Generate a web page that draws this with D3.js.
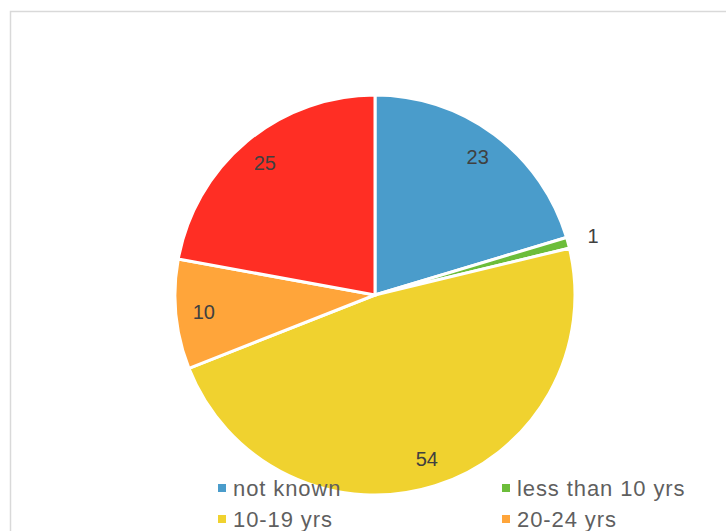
<!DOCTYPE html>
<html>
<head>
<meta charset="utf-8">
<script src="https://cdn.jsdelivr.net/npm/d3@7"></script>
<style>
  body { margin: 0; background: #fff; overflow: hidden; }
  text { font-family: "Liberation Sans", Arial, sans-serif; }
</style>
</head>
<body>
<svg id="chart"></svg>
<script>
const categories = ["not known", "less than 10 yrs", "10-19 yrs", "20-24 yrs", "25+ yrs"];
const values = [23, 1, 54, 10, 25];
const colors = ["#4a9ccb", "#6cbd3a", "#f0d22f", "#ffa53a", "#ff2e24"];

const width = 726;
const height = 531;
const cx = 375, cy = 295, radius = 200;

const svg = d3.select("svg#chart")
  .attr("width", width)
  .attr("height", height);

// chart frame (runs past the window edge)
svg.append("rect")
  .attr("x", 10.5).attr("y", 11.5)
  .attr("width", 800).attr("height", 600)
  .style("fill", "none")
  .style("stroke", "#d9d9d9")
  .style("stroke-width", 1.5);

const data = categories.map((c, i) => ({ name: c, value: values[i], color: colors[i] }));

const pie = d3.pie().value(d => d.value).sort(null);
const arc = d3.arc().innerRadius(0).outerRadius(radius);
const labelArc = d3.arc().innerRadius(radius * 0.86).outerRadius(radius * 0.86);
const outerArc = d3.arc().innerRadius(radius * 1.13).outerRadius(radius * 1.13);

const g = svg.append("g").attr("transform", "translate(" + cx + "," + cy + ")");

const arcs = pie(data);

g.selectAll("path")
  .data(arcs)
  .enter()
  .append("path")
  .attr("d", arc)
  .style("fill", d => d.data.color)
  .style("stroke", "#fff")
  .style("stroke-width", 3);

g.selectAll("text.lbl")
  .data(arcs)
  .enter()
  .append("text")
  .attr("class", "lbl")
  .attr("transform", d => "translate(" + (d.data.value < 3 ? outerArc : labelArc).centroid(d) + ")")
  .attr("text-anchor", "middle")
  .attr("dy", "0.35em")
  .style("font-size", "20px")
  .style("fill", "#404040")
  .text(d => d.data.value);

// legend, two columns
const legend = svg.append("g");
const items = legend.selectAll("g")
  .data(data)
  .enter()
  .append("g")
  .attr("transform", (d, i) => "translate(" + (i % 2 ? 502 : 218) + "," + (488 + Math.floor(i / 2) * 31) + ")");

items.append("rect")
  .attr("x", 0).attr("y", -4)
  .attr("width", 8).attr("height", 8)
  .style("fill", d => d.color);

items.append("text")
  .attr("x", 15)
  .attr("dy", "0.35em")
  .style("font-size", "22px")
  .style("letter-spacing", "0.9px")
  .style("fill", "#5f5f5f")
  .text(d => d.name);
</script>
</body>
</html>
